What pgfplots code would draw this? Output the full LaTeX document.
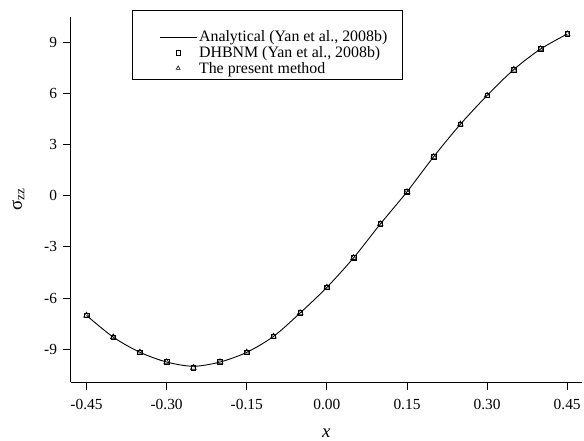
\documentclass[border=0pt]{standalone}
\usepackage{fontspec}
\setmainfont{Liberation Serif}
\usepackage{pgfplots}
\pgfplotsset{compat=1.18}
\begin{document}
\begin{tikzpicture}
\begin{axis}[
  scale only axis,
  width=513bp, height=366.8bp,
  xmin=-0.480, xmax=0.478,
  ymin=-10.95, ymax=10.5,
  axis x line=bottom, axis y line=left,
  axis line style={-, line width=0.9pt},
  xtick={-0.45,-0.30,-0.15,0,0.15,0.30,0.45},
  ytick={-9,-6,-3,0,3,6,9},
  tick align=outside,
  major tick length=8bp,
  tick style={black, line width=0.9pt},
  xticklabel style={/pgf/number format/fixed, /pgf/number format/fixed zerofill, /pgf/number format/precision=2, yshift=-5.5bp},
  /pgf/number format/assume math mode=true,
  ticklabel style={font=\fontsize{15.5}{17}\selectfont},
  yticklabel style={xshift=-2bp},
  xlabel={\textit{x}},
  ylabel={σ\textsubscript{zz}},
  label style={font=\fontsize{19}{21}\selectfont},
  xlabel style={yshift=-12bp},
  ylabel style={yshift=13bp},
  legend style={at={(0.12,1.018)}, anchor=north west, draw=black, line width=0.9pt,
    font=\fontsize{16}{18}\selectfont, row sep=-1bp, inner xsep=13bp, inner ysep=3bp,
    nodes={inner sep=2bp}},
  legend cell align=left,
  legend image code/.code={%
    \path (-14bp,0bp);
    \draw[mark repeat=2,mark phase=2,#1] plot coordinates {(0bp,0bp) (18.5bp,0bp) (37bp,0bp)};},
  legend image post style={mark size=2.3bp},
]
\addlegendimage{empty legend}
\addlegendentry{\rule{0pt}{11bp}}
\addplot[black, line width=0.9pt, smooth, no markers] coordinates {
(-0.45,-7.02) (-0.40,-8.29) (-0.35,-9.18) (-0.30,-9.75) (-0.25,-10.0) (-0.20,-9.75)
(-0.15,-9.18) (-0.10,-8.25) (-0.05,-6.87) (0.00,-5.37) (0.05,-3.64) (0.10,-1.66)
(0.15,0.23) (0.20,2.29) (0.25,4.19) (0.30,5.88) (0.35,7.40) (0.40,8.60) (0.45,9.48)};
\addlegendentry{Analytical (Yan et al., 2008b)}
\addplot[only marks, mark=square, mark size=2.3bp, black, mark options={line width=0.6pt}] coordinates {
(-0.45,-7.02) (-0.40,-8.29) (-0.35,-9.18) (-0.30,-9.75) (-0.25,-10.08) (-0.20,-9.75)
(-0.15,-9.18) (-0.10,-8.25) (-0.05,-6.87) (0.00,-5.37) (0.05,-3.64) (0.10,-1.66)
(0.15,0.23) (0.20,2.29) (0.25,4.19) (0.30,5.88) (0.35,7.40) (0.40,8.60) (0.45,9.48)};
\addlegendentry{DHBNM (Yan et al., 2008b)}
\addplot[only marks, mark=triangle, mark size=3.3bp, black, mark options={line width=0.6pt}] coordinates {
(-0.45,-7.02) (-0.40,-8.29) (-0.35,-9.18) (-0.30,-9.75) (-0.25,-10.08) (-0.20,-9.75)
(-0.15,-9.18) (-0.10,-8.25) (-0.05,-6.87) (0.00,-5.37) (0.05,-3.64) (0.10,-1.66)
(0.15,0.23) (0.20,2.29) (0.25,4.19) (0.30,5.88) (0.35,7.40) (0.40,8.60) (0.45,9.48)};
\addlegendentry{The present method}
\end{axis}
\path ([xshift=-70.7bp,yshift=16.7bp]current axis.north west) ([yshift=-55.5bp]current axis.south east);
\end{tikzpicture}
\end{document}
